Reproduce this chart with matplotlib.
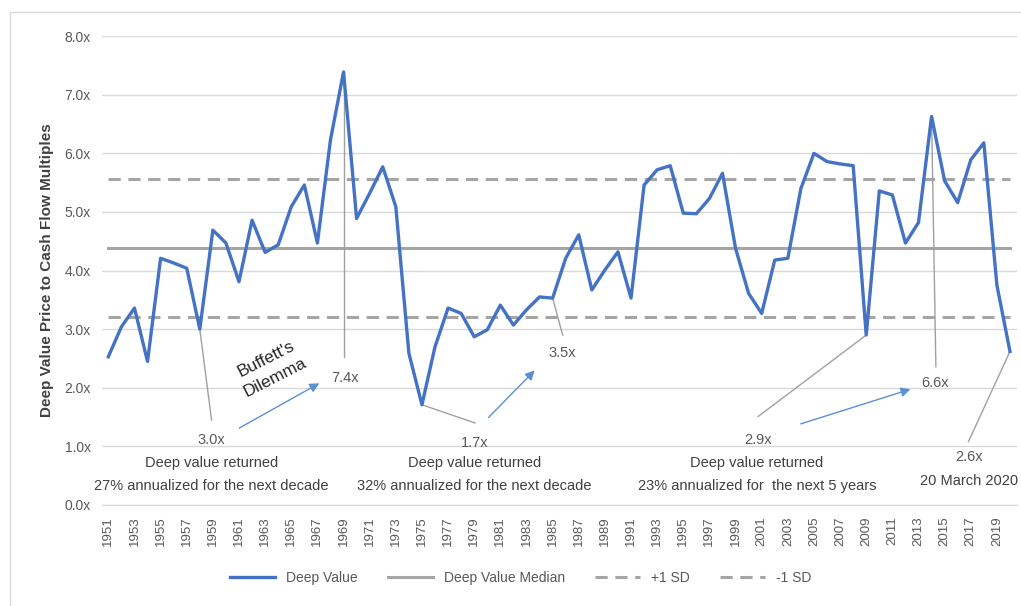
import matplotlib
matplotlib.use("Agg")
import matplotlib.pyplot as plt
from matplotlib.patches import Rectangle
import numpy as np

plt.rcParams['font.family'] = ['Liberation Sans', 'DejaVu Sans']

# Data
years = list(range(1951, 2021))
deep_value = [2.53, 3.04, 3.36, 2.45, 4.21, 4.13, 4.04, 3.00, 4.69, 4.47,
              3.81, 4.86, 4.31, 4.44, 5.09, 5.46, 4.47, 6.23, 7.39, 4.89,
              5.32, 5.77, 5.09, 2.59, 1.71, 2.70, 3.36, 3.27, 2.87, 2.99,
              3.41, 3.07, 3.33, 3.55, 3.53, 4.21, 4.61, 3.67, 4.01, 4.32,
              3.53, 5.46, 5.72, 5.79, 4.98, 4.97, 5.23, 5.66, 4.38, 3.61,
              3.27, 4.18, 4.21, 5.40, 6.00, 5.86, 5.82, 5.79, 2.90, 5.36,
              5.29, 4.47, 4.82, 6.63, 5.53, 5.16, 5.89, 6.18, 3.75, 2.62]
median = 4.39
plus_sd = 5.57
minus_sd = 3.21
yticks = [0, 1, 2, 3, 4, 5, 6, 7, 8]
xtick_years = list(range(1951, 2020, 2))

blue = '#4472C4'
grey = '#A5A5A5'
txt = '#595959'

fig = plt.figure(figsize=(10.21, 6.06), dpi=100)
ax = fig.add_axes([0.0997, 0.1667, 0.8959, 0.7736])

ax.plot(years, deep_value, color=blue, lw=2.4, label='Deep Value', zorder=5)
ax.plot([years[0], years[-1]], [median, median], color=grey, lw=2.2, label='Deep Value Median', zorder=3)
ax.plot([years[0], years[-1]], [plus_sd, plus_sd], color=grey, lw=2.2, ls=(0, (4, 2.5)), label='+1 SD', zorder=3)
ax.plot([years[0], years[-1]], [minus_sd, minus_sd], color=grey, lw=2.2, ls=(0, (4, 2.5)), label='-1 SD', zorder=3)

ax.set_xlim(years[0] - 0.5, years[-1] + 0.5)
ax.set_ylim(0, 8)
ax.set_yticks(yticks)
ax.set_yticklabels(['%.1fx' % v for v in yticks], color=txt, fontsize=10)
ax.set_xticks(xtick_years)
ax.set_xticklabels([str(y) for y in xtick_years], rotation=90, color=txt, fontsize=9.5)
ax.tick_params(length=0, pad=8)
ax.grid(axis='y', color='#D9D9D9', lw=1, zorder=0)
for s in ['top', 'right', 'left']:
    ax.spines[s].set_visible(False)
ax.spines['bottom'].set_color('#D9D9D9')
ax.set_ylabel('Deep Value Price to Cash Flow Multiples', fontsize=11, fontweight='bold',
              color='#404040')
ax.yaxis.set_label_coords(-0.052, 0.5)

# annotations
def leader(x0, y0, x1, y1):
    ax.plot([x0, x1], [y0, y1], color='#A0A0A0', lw=1, zorder=4)

def arrow(x0, y0, x1, y1):
    ax.annotate('', xy=(x1, y1), xytext=(x0, y0),
                arrowprops=dict(arrowstyle='-|>', color='#5B8FD6', lw=1,
                                mutation_scale=14), zorder=4)

fs = 10.5
leader(1969, 7.39, 1969, 2.53)
ax.text(1969.1, 2.17, '7.4x', color=txt, fontsize=fs, ha='center', va='center')
leader(1958, 3.0, 1958.9, 1.45)
ax.text(1958.9, 1.11, '3.0x', color=txt, fontsize=fs, ha='center', va='center')
ax.text(1958.9, 0.72, 'Deep value returned', color='#404040', fontsize=fs, ha='center', va='center')
ax.text(1958.9, 0.32, '27% annualized for the next decade', color='#404040', fontsize=fs, ha='center', va='center')
ax.text(1963.4, 2.33, "Buffett's\nDilemma", color='#262626', fontsize=12.5, ha='center', va='center',
        rotation=27, rotation_mode='anchor', linespacing=1.45)
arrow(1960.84, 1.29, 1967.33, 2.10)

leader(1975, 1.71, 1979.06, 1.40)
ax.text(1979.06, 1.06, '1.7x', color=txt, fontsize=fs, ha='center', va='center')
ax.text(1979.0, 0.72, 'Deep value returned', color='#404040', fontsize=fs, ha='center', va='center')
ax.text(1979.0, 0.32, '32% annualized for the next decade', color='#404040', fontsize=fs, ha='center', va='center')
arrow(1979.95, 1.46, 1983.78, 2.33)

leader(1985, 3.53, 1985.77, 2.90)
ax.text(1985.77, 2.59, '3.5x', color=txt, fontsize=fs, ha='center', va='center')

leader(2009, 2.90, 2000.73, 1.51)
ax.text(2000.7, 1.11, '2.9x', color=txt, fontsize=fs, ha='center', va='center')
ax.text(2000.63, 0.72, 'Deep value returned', color='#404040', fontsize=fs, ha='center', va='center')
ax.text(2000.63, 0.32, '23% annualized for  the next 5 years', color='#404040', fontsize=fs, ha='center', va='center')
arrow(2003.79, 1.37, 2012.59, 1.99)

leader(2014, 6.63, 2014.33, 2.36)
ax.text(2014.25, 2.08, '6.6x', color=txt, fontsize=fs, ha='center', va='center')

leader(2020, 2.62, 2016.82, 1.08)
ax.text(2016.9, 0.82, '2.6x', color=txt, fontsize=fs, ha='center', va='center')
ax.text(2016.9, 0.41, '20 March 2020', color='#404040', fontsize=fs, ha='center', va='center')

fig.legend(loc='center', bbox_to_anchor=(0.51, 0.046), ncol=4, frameon=False,
           fontsize=10, handlelength=3.2, columnspacing=2.2, labelcolor=txt)

# chart area border
fig.add_artist(Rectangle((10 / 1021, -0.01), 1.02, 1 - 12 / 606 + 0.01, transform=fig.transFigure,
                         fill=False, edgecolor='#D9D9D9', lw=1))

fig.savefig('out.png', dpi=100)
